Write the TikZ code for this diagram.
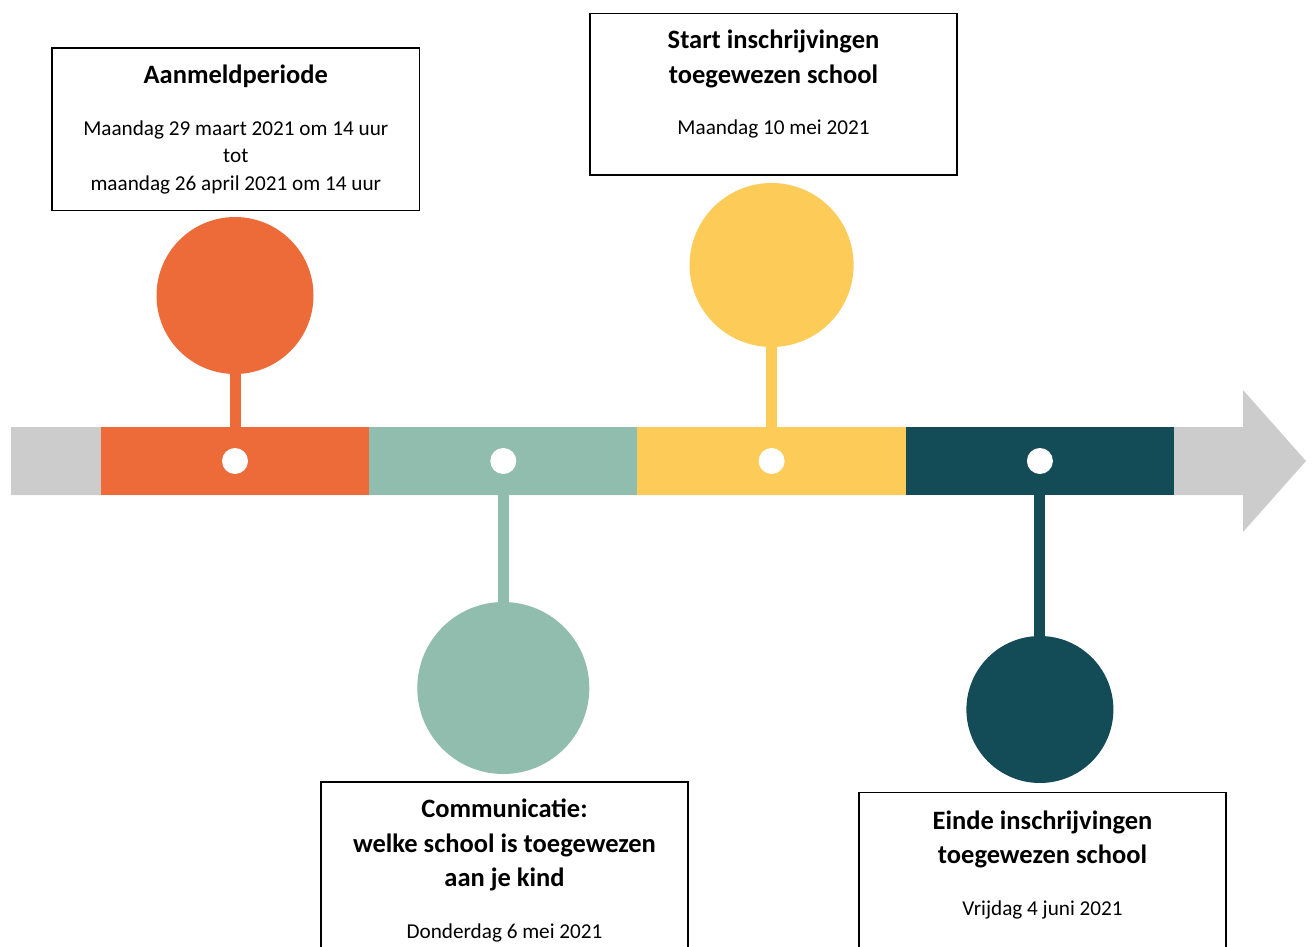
\documentclass[tikz,border=0pt]{standalone}
\usepackage{fontspec}
\setmainfont{Carlito}
\usetikzlibrary{positioning}
\definecolor{oranje}{HTML}{ED6B39}
\definecolor{groen}{HTML}{91BDAF}
\definecolor{geel}{HTML}{FDCB58}
\definecolor{blauw}{HTML}{134B57}
\definecolor{grijs}{HTML}{CCCCCC}
\tikzstyle{seg} = [rectangle, inner sep=0, outer sep=0, minimum width=268.3pt, minimum height=68pt]
\tikzstyle{bol} = [circle, inner sep=0, outer sep=0]
\tikzstyle{punt} = [circle, fill=white, inner sep=0, outer sep=0, minimum size=26pt]
\tikzstyle{steel} = [line width=11pt]
\tikzstyle{kader} = [rectangle, draw=black, line width=1.8pt, inner sep=0, text width=367.5pt, align=flush center, anchor=north, font=\fontsize{21.2}{27.5}\selectfont]
\newcommand{\titel}[1]{{\bfseries\fontsize{26.5}{27.5}\selectfont #1}}

\begin{document}
\begin{tikzpicture}[x=1pt, y=-1pt]
\useasboundingbox (0,0) rectangle (1312,947);
\clip (0,0) rectangle (1312,947);

% tijdlijn
\fill[grijs] (11,427) -- (1243,427) -- (1243,390) -- (1306,461) -- (1243,532) -- (1243,495) -- (11,495) -- cycle;
\node [seg, fill=oranje] (s1) at (235,461) {};
\node [seg, fill=groen, right=0pt of s1] (s2) {};
\node [seg, fill=geel, right=0pt of s2] (s3) {};
\node [seg, fill=blauw, right=0pt of s3] (s4) {};

\node [punt] (p1) at (s1) {};
\node [punt] (p2) at (s2) {};
\node [punt] (p3) at (s3) {};
\node [punt] (p4) at (s4) {};

% bollen
\node [bol, fill=oranje, minimum size=157pt, above=53pt of s1] (b1) {};
\node [bol, fill=groen, minimum size=172pt, below=107pt of s2] (b2) {};
\node [bol, fill=geel, minimum size=164pt, above=80pt of s3] (b3) {};
\node [bol, fill=blauw, minimum size=147pt, below=141pt of s4] (b4) {};

\draw [steel, oranje] (b1.south) -- (p1.north);
\draw [steel, groen] (b2.north) -- (p2.south);
\draw [steel, geel] (b3.south) -- (p3.north);
\draw [steel, blauw] (b4.north) -- (p4.south);

% kaders
\node [kader] (k1) at (235.8,47) {\rule{0pt}{36pt}\titel{Aanmeldperiode}\\[24pt]
  Maandag 29 maart 2021 om 14 uur\\ tot\\ maandag 26 april 2021 om 14 uur\rule[-20pt]{0pt}{20pt}};
\node [kader] (k2) at (773.5,12.6) {\rule{0pt}{35.2pt}\titel{Start inschrijvingen\\[7pt] toegewezen school}\\[24pt]
  Maandag 10 mei 2021\rule[-40pt]{0pt}{40pt}};
\node [kader] (k3) at (504.5,781) {\rule{0pt}{36pt}\titel{Communicatie:\\[7pt] welke school is toegewezen\\[7pt] aan je kind}\\[24.5pt]
  Donderdag 6 mei 2021\rule[-40pt]{0pt}{40pt}};
\node [kader] (k4) at (1042.5,791.6) {\rule{0pt}{36.6pt}\titel{Einde inschrijvingen\\[7pt] toegewezen school}\\[24.5pt]
  Vrijdag 4 juni 2021\rule[-40pt]{0pt}{40pt}};

\end{tikzpicture}
\end{document}
